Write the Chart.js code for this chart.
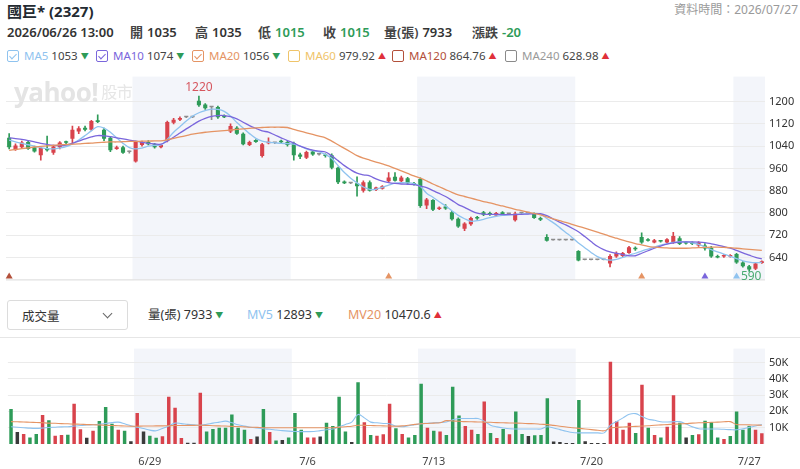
<!DOCTYPE html>
<html>
<head>
<meta charset="utf-8">
<script src="https://cdn.jsdelivr.net/npm/chart.js@4.4.1/dist/chart.umd.min.js"></script>
<style>
body{margin:0;width:800px;height:469px;overflow:hidden;background:#fff;position:relative;
  font-family:"Noto Sans","Noto Sans CJK TC",sans-serif;color:#333}
.abs{position:absolute;white-space:nowrap}
.title{left:7px;top:0;font-size:15px;font-weight:700;color:#232a31}
.stamp{right:2px;top:0;font-size:12px;color:#9a9a9a}
.row2{top:23px;font-size:13px;font-weight:600;color:#333;line-height:18px}
.row2 .k{font-weight:600;color:#444;margin-right:4px}
.leg{top:48px;font-size:11.5px;line-height:16px;color:#444}
.cb{display:inline-block;width:10px;height:10px;border:1.3px solid currentColor;border-radius:2px;
  vertical-align:-2px;margin-right:5px;position:relative}
.cb.on::after{content:'';position:absolute;left:3px;top:0.5px;width:3px;height:6px;border:solid currentColor;
  border-width:0 1.4px 1.4px 0;transform:rotate(45deg)}
.dn{color:#2e9b58;font-size:8px;vertical-align:1px;margin-left:3px}
.up{color:#e0303a;font-size:8px;vertical-align:1px;margin-left:3px}
.g{color:#2e9b58}
.wm{left:14px;top:74px;font:700 26px "Open Sans",sans-serif;color:#e4e4e4;letter-spacing:-0.5px}
.wm small{font:400 16px "Noto Sans CJK TC",sans-serif;color:#e6e6e6;margin-left:3px;vertical-align:4px}
.drop{left:7px;top:300px;width:119px;height:28px;border:1px solid #dcdcdc;border-radius:3px}
.drop span{position:absolute;left:14px;top:5px;font-size:12.5px;color:#333}
.drop i{position:absolute;right:16px;top:9px;width:6px;height:6px;border:solid #666;border-width:0 1.2px 1.2px 0;transform:rotate(45deg)}
.vleg{top:306px;font-size:12.5px;line-height:18px;color:#333}
.sep{left:0;top:337px;width:800px;height:1px;background:#e6e6e6}
</style>
</head>
<body>
<div class="abs title">國巨* (2327)</div>
<div class="abs stamp">資料時間：2026/07/27</div>

<div class="abs row2" style="left:7px">2026/06/26 13:00</div>
<div class="abs row2" style="left:130px"><span class="k">開</span>1035</div>
<div class="abs row2" style="left:195px"><span class="k">高</span>1035</div>
<div class="abs row2" style="left:258px"><span class="k">低</span><span class="g">1015</span></div>
<div class="abs row2" style="left:323px"><span class="k">收</span><span class="g">1015</span></div>
<div class="abs row2" style="left:384px"><span class="k">量(張)</span>7933</div>
<div class="abs row2" style="left:472px"><span class="k">漲跌</span><span class="g">-20</span></div>

<div class="abs leg" style="left:7px"><span class="cb on" style="color:#8fc3ef"></span><span style="color:#8fc3ef">MA5</span> 1053<span class="dn">▼</span></div>
<div class="abs leg" style="left:96px"><span class="cb on" style="color:#7a66dc"></span><span style="color:#7a66dc">MA10</span> 1074<span class="dn">▼</span></div>
<div class="abs leg" style="left:192px"><span class="cb on" style="color:#e59464"></span><span style="color:#e59464">MA20</span> 1056<span class="dn">▼</span></div>
<div class="abs leg" style="left:288px"><span class="cb" style="color:#efc46a"></span><span style="color:#efc46a">MA60</span> 979.92<span class="up">▲</span></div>
<div class="abs leg" style="left:392px"><span class="cb" style="color:#b3503a"></span><span style="color:#b3503a">MA120</span> 864.76<span class="up">▲</span></div>
<div class="abs leg" style="left:505px"><span class="cb" style="color:#8a8a8a"></span><span style="color:#9a9a9a">MA240</span> 628.98<span class="up">▲</span></div>

<div class="abs" style="left:0;top:66px;width:800px;height:224px"><canvas id="priceChart"></canvas></div>
<div class="abs wm">yahoo!<small>股市</small></div>

<div class="abs drop"><span>成交量</span><i></i></div>
<div class="abs vleg" style="left:148px">量(張) 7933<span class="dn">▼</span></div>
<div class="abs vleg" style="left:247px"><span style="color:#8fc3ef">MV5</span> 12893<span class="dn">▼</span></div>
<div class="abs vleg" style="left:348px"><span style="color:#e59464">MV20</span> 10470.6<span class="up">▲</span></div>
<div class="abs sep"></div>

<div class="abs" style="left:0;top:338px;width:800px;height:131px"><canvas id="volChart"></canvas></div>

<script>
// trading days, grouped by week, and hourly bars per day
const weeks = [
    ['6/23', '6/24', '6/25', '6/26'],
    ['6/29', '6/30', '7/1', '7/2', '7/3'],
    ['7/6', '7/7', '7/8', '7/9'],
    ['7/13', '7/14', '7/15', '7/16', '7/17'],
    ['7/20', '7/21', '7/22', '7/23', '7/24'],
    ['7/27']
];
const hours = ['09:00', '10:00', '11:00', '12:00', '13:00'];

const opens = [1070,1030,1036,1055,1036,1007,1030,1016,1036,1054, 1067,1093,1106,1099,1133,1099,1070,1030,1036,1019,
    985,1044,1055,1047,1036,1059,1124,1135,1144,1144, 1203,1190,1180,1181,1150,1093,1106,1085,1044,1062,
    1005,1050,1051,1058,1055,1051,1010,998,1021,1010, 1010,1007,962,913,907,907,880,910,882,887,
    914,930,914,925,907,922,827,846,814,823, 802,779,743,759,785,802,800,791,802,796,
    774,799,799,796,782,713,702,702,702,702, 663,631,631,631,631,618,643,645,656,675,
    713,705,694,698,694,694,709,694,694,683, 683,675,645,643,643,652,622,608,599,620];
const highs = [1085,1048,1058,1060,1040,1036,1076,1044,1056,1058, 1112,1110,1112,1133,1153,1105,1075,1040,1040,1022,
    1058,1058,1060,1050,1046,1130,1140,1145,1146,1146, 1220,1193,1182,1184,1153,1120,1110,1088,1058,1064,
    1050,1070,1053,1062,1058,1055,1015,1022,1025,1012, 1012,1012,965,915,909,930,915,915,893,898,
    945,945,932,928,910,926,852,848,822,830, 806,782,765,785,788,806,803,802,805,798,
    803,800,800,800,785,722,702,702,702,702, 665,631,631,631,631,650,660,658,680,678,
    728,708,705,700,708,730,715,696,696,697, 690,680,648,650,650,655,625,612,620,628];
const lows = [1030,1025,1032,1028,1018,990,1022,1010,1030,1048, 1047,1085,1095,1096,1124,1060,1020,1028,1014,1015,
    982,1040,1044,1033,1034,1055,1120,1132,1142,1142, 1183,1172,1135,1140,1142,1088,1082,1044,1042,1053,
    1000,1048,1049,1052,1040,990,995,995,1007,1008, 1000,958,905,905,905,860,875,878,880,885,
    910,914,910,905,900,820,815,808,812,813, 774,748,736,755,777,790,791,789,791,794,
    770,797,797,780,772,698,702,702,702,702, 627,631,631,631,631,606,640,643,654,665,
    690,698,692,695,692,690,686,688,686,680, 666,640,638,640,641,618,605,590,596,618];
const closes = [1036,1042,1053,1030,1021,1033,1025,1039,1053,1052, 1099,1104,1099,1130,1127,1067,1025,1036,1016,1019,
    1055,1055,1047,1036,1044,1127,1135,1141,1144,1144, 1187,1176,1180,1144,1144,1112,1085,1047,1055,1055,
    1047,1056,1051,1054,1044,1007,1002,1019,1010,1010, 1005,962,910,907,907,896,910,880,891,896,
    927,916,927,907,902,825,848,811,819,816, 777,751,762,782,780,793,793,800,795,796,
    798,799,799,782,775,700,702,702,702,702, 629,631,631,631,631,645,656,656,677,669,
    694,700,702,697,705,717,688,690,688,694, 672,643,640,648,648,622,608,597,618,626];

const ma5 = [1062,1055,1050,1045,1040,1035,1031,1030,1033,1038, 1048,1062,1078,1095,1110,1105,1090,1070,1050,1035,
    1030,1033,1040,1043,1044,1065,1090,1110,1130,1148, 1160,1168,1173,1172,1165,1148,1125,1105,1085,1068,
    1058,1054,1052,1050,1049,1047,1040,1030,1024,1019, 1010,996,970,945,925,908,893,885,885,892,
    900,907,909,908,905,895,871,856,840,825, 808,791,779,770,772,777,783,788,791,793,
    795,796,797,798,796,780,765,748,730,712, 692,675,658,643,634,630,633,640,648,655,
    663,670,677,684,689,694,697,696,692,687, 678,668,660,652,644,636,628,623,621,622];
const ma10 = [1070,1067,1064,1060,1055,1050,1046,1043,1042,1044, 1050,1058,1066,1073,1078,1077,1074,1070,1066,1062,
    1058,1054,1050,1048,1047,1058,1072,1087,1102,1116, 1130,1140,1147,1150,1150,1146,1138,1126,1114,1104,
    1095,1090,1080,1070,1060,1051,1040,1032,1026,1022, 1019,1005,988,970,955,943,937,933,922,914,
    909,906,904,903,902,896,891,880,870,859, 845,830,820,808,799,796,795,795,794,794,
    794,795,796,797,797,790,778,767,757,745, 732,715,697,680,668,660,655,650,646,646,
    655,664,673,681,688,692,695,696,696,695, 693,689,684,679,673,665,656,648,640,635];
const ma20 = [1025,1028,1031,1034,1037,1039,1041,1043,1045,1046, 1047,1048,1050,1051,1053,1054,1055,1055,1056,1057,
    1057,1058,1058,1059,1059,1063,1068,1073,1078,1083, 1087,1090,1092,1094,1096,1098,1100,1102,1104,1106,
    1107,1108,1108,1108,1107,1100,1094,1088,1082,1076, 1070,1058,1045,1032,1019,1006,997,990,983,976,
    969,960,951,942,933,925,915,904,894,884, 874,865,859,853,847,841,836,830,825,819,
    813,808,803,798,793,786,779,772,766,759, 752,745,738,731,724,716,709,702,696,690,
    685,680,677,675,674,673,673,673,674,675, 676,677,677,676,675,673,671,669,667,665];

// volume in 張, and the close's move against the previous close (1 up, -1 down, 0 flat)
const volumes = [21400,7400,6200,4000,6200,17700,14500,5100,5500,5700, 24600,9000,3800,8100,14100,22600,12400,8700,8100,1700,
    19000,7700,5100,3800,4700,29000,22200,3600,800,800, 31400,7700,9200,10000,10000,18100,10000,8700,3100,4600,
    21400,7400,2100,2500,4000,19000,8700,4000,4000,4600, 13000,11100,29000,7700,1200,37800,13400,5500,5100,5900,
    24600,9600,6200,4000,5500,36900,10000,8100,7700,5500, 35000,17500,11100,8700,6200,26100,6800,3600,9200,5900,
    19900,6200,4900,5300,5500,28000,1500,1200,600,600, 26900,1700,600,600,600,50400,14000,8700,13000,6800,
    36300,10000,5500,4000,10600,29900,13000,4000,5500,5900, 14300,13400,4000,3100,4900,19900,8700,11100,8700,6600];
const volMove = [-1,0,1,-1,-1,1,-1,1,1,-1, 1,1,0,1,-1,-1,-1,1,-1,0,
    1,0,-1,-1,1,1,1,1,0,0, 1,-1,-1,-1,-1,-1,-1,-1,1,0,
    -1,1,-1,0,-1,-1,-1,1,1,0, -1,-1,-1,-1,0,-1,1,-1,1,1,
    1,-1,1,-1,-1,-1,1,-1,1,-1, -1,-1,1,1,-1,1,-1,1,-1,1,
    -1,-1,0,-1,-1,-1,0,0,0,0, -1,0,0,0,0,1,1,1,1,-1,
    1,-1,1,-1,1,1,-1,0,-1,1, -1,-1,-1,1,-1,-1,-1,-1,1,1];
const mv5 = [10600,10300,10000,9700,9600,9800,10100,10300,10500,10600, 11000,11300,11600,11800,12100,12600,13100,13400,12400,11200,
    10300,9500,8500,8100,9500,11000,12800,12500,12000,11700, 11500,12100,12800,13400,14000,13000,11800,11000,10300,9800,
    9300,9000,8600,8200,7900,7700,7600,7600,7700,8200, 8700,9200,10500,12000,13400,18100,16000,13400,13000,12600,
    12400,11000,10600,11200,11800,12400,12700,13000,13200,13500, 14800,15600,15600,15600,15600,14000,11500,10500,9800,9300,
    9200,9200,9200,9200,9200,10600,9800,8800,7800,7000, 6800,6800,6800,6800,6800,11500,13800,16000,18200,18600,
    16800,15200,14500,13600,13500,13600,13700,12200,10500,9300, 9200,9200,9200,9000,8800,8700,9300,10200,11000,11900];
const mv20 = [13700,13600,13500,13300,13200,13000,12800,12700,12500,12400, 12200,12100,11900,11800,11600,11500,11300,11200,11000,10900,
    10900,11000,11000,11100,11100,11200,11300,11300,11400,11400, 11500,11400,11200,11100,11000,10800,10700,10500,10300,10200,
    10000,10000,10000,10000,10000,10000,10000,10000,10000,10000, 10000,10000,10300,10600,10900,11500,11400,11300,11200,11100,
    11000,10900,11100,11500,12000,12400,12600,12800,13000,14300, 14100,13900,13700,13600,13500,13400,13300,13100,13000,12900,
    12800,12700,12500,12400,12100,11900,11400,10900,10400,10000, 9600,9200,8800,8400,8100,9800,10200,10400,10600,10800,
    11000,11200,11500,11700,11900,12100,12300,12500,12800,13000, 13100,13300,13400,13600,13700,11900,11800,11700,11600,11500];

const priceTicks = [640, 720, 800, 880, 960, 1040, 1120, 1200];
const volTicks = [10000, 20000, 30000, 40000, 50000];

// bars where a moving-average signal arrow is shown under the chart
const signalBars = [0, 60, 100, 110, 115];
const signalLines = ['MA120', 'MA20', 'MA20', 'MA10', 'MA5'];

const RED = '#d8434c', GREEN = '#2e9b58', GRAY = '#8c8c8c', DARK = '#3a3a3a';
const lineColors = { MA5: '#8fc3ef', MA10: '#7a66dc', MA20: '#e59464', MA120: '#b3503a' };

Chart.defaults.font.family = '"Noto Sans", "Noto Sans CJK TC", sans-serif';

const categories = weeks.flat().flatMap(d => hours.map(h => d + ' ' + h));

// index range of each week, used for the alternating shading and the date ticks
const weekRanges = [];
let n = 0;
weeks.forEach(w => {
    weekRanges.push([n, n + w.length * hours.length - 1]);
    n += w.length * hours.length;
});
const tickText = {};
weekRanges.forEach(([a], w) => { if (w > 0) tickText[a + 2] = weeks[w][0]; });

function shadeWeeks(chart) {
    const { ctx, chartArea, scales: { x } } = chart;
    const step = x.getPixelForValue(1) - x.getPixelForValue(0);
    ctx.save();
    ctx.fillStyle = '#f3f5fa';
    weekRanges.forEach(([a, b], w) => {
        if (w % 2 === 0) return;
        const x0 = x.getPixelForValue(a) - step / 2;
        const x1 = Math.min(x.getPixelForValue(b) + step / 2, chartArea.right);
        ctx.fillRect(x0, chartArea.top, x1 - x0, chartArea.bottom - chartArea.top);
    });
    ctx.restore();
}

const priceDecor = {
    id: 'priceDecor',
    beforeDraw: shadeWeeks,
    afterDatasetsDraw(chart) {
        const { ctx, chartArea: a, scales: { x, y } } = chart;
        ctx.save();
        ctx.strokeStyle = '#d9d9d9';
        ctx.lineWidth = 1;
        ctx.beginPath();
        ctx.moveTo(a.left, a.bottom + 0.5);
        ctx.lineTo(a.right, a.bottom + 0.5);
        ctx.stroke();

        const hi = highs.indexOf(Math.max(...highs));
        ctx.font = '12px "Noto Sans"';
        ctx.textAlign = 'center';
        ctx.textBaseline = 'bottom';
        ctx.fillStyle = '#d6565e';
        ctx.fillText(String(highs[hi]), x.getPixelForValue(hi), y.getPixelForValue(highs[hi]) - 2);

        const lo = lows.indexOf(Math.min(...lows));
        ctx.textBaseline = 'middle';
        ctx.fillStyle = '#4aab72';
        ctx.fillText(String(lows[lo]), x.getPixelForValue(lo) + 2, a.bottom - 3);

        signalBars.forEach((b, i) => {
            const cx = x.getPixelForValue(b);
            ctx.fillStyle = lineColors[signalLines[i]];
            ctx.beginPath();
            ctx.moveTo(cx - 3.5, a.bottom - 1);
            ctx.lineTo(cx + 3.5, a.bottom - 1);
            ctx.lineTo(cx, a.bottom - 7);
            ctx.closePath();
            ctx.fill();
        });
        ctx.restore();
    }
};

const candleColors = closes.map((c, i) => c > opens[i] ? RED : c < opens[i] ? GREEN : GRAY);
const volColors = volMove.map(m => m > 0 ? RED : m < 0 ? GREEN : DARK);

const maLine = (data, color) => ({
    type: 'line', data, borderColor: color, borderWidth: 1.3,
    pointRadius: 0, tension: 0.35, order: 0
});

new Chart(document.getElementById('priceChart').getContext('2d'), {
    type: 'bar',
    data: {
        labels: categories,
        datasets: [
            maLine(ma20, lineColors.MA20),
            maLine(ma10, lineColors.MA10),
            maLine(ma5, lineColors.MA5),
            {
                data: opens.map((o, i) => [o, closes[i]]),
                backgroundColor: candleColors,
                barPercentage: 0.65, categoryPercentage: 1,
                grouped: false, minBarLength: 1.5, order: 1
            },
            {
                data: lows.map((l, i) => [l, highs[i]]),
                backgroundColor: candleColors,
                barThickness: 1, grouped: false, order: 2
            }
        ]
    },
    options: {
        animation: false,
        responsive: true,
        maintainAspectRatio: false,
        layout: { padding: { left: 6, top: 4, bottom: 6, right: 0 } },
        plugins: { legend: { display: false }, tooltip: { enabled: false } },
        scales: {
            x: { display: false },
            y: {
                position: 'right', min: 561, max: 1290,
                afterBuildTicks: s => { s.ticks = priceTicks.map(v => ({ value: v })); },
                afterFit: s => { s.width = 35; },
                grid: { color: '#ebebeb', drawTicks: false },
                border: { display: false },
                ticks: { padding: 4, color: '#333', font: { size: 11 }, callback: v => String(v) }
            }
        }
    },
    plugins: [priceDecor]
});

new Chart(document.getElementById('volChart').getContext('2d'), {
    type: 'bar',
    data: {
        labels: categories,
        datasets: [
            { type: 'line', data: mv20, borderColor: lineColors.MA20, borderWidth: 1.1, pointRadius: 0, tension: 0.35, order: 0 },
            { type: 'line', data: mv5, borderColor: lineColors.MA5, borderWidth: 1.1, pointRadius: 0, tension: 0.35, order: 0 },
            {
                data: volumes, backgroundColor: volColors,
                barPercentage: 0.55, categoryPercentage: 1, minBarLength: 1, order: 1
            }
        ]
    },
    options: {
        animation: false,
        responsive: true,
        maintainAspectRatio: false,
        layout: { padding: { left: 6, top: 2, bottom: 0, right: 0 } },
        plugins: { legend: { display: false }, tooltip: { enabled: false } },
        scales: {
            x: {
                grid: { display: false, drawTicks: false },
                border: { display: false },
                afterFit: s => { s.height = 25; },
                ticks: {
                    autoSkip: false, maxRotation: 0, padding: 11,
                    color: '#444', font: { size: 11 },
                    callback: (v, i) => tickText[i] || ''
                }
            },
            y: {
                position: 'right', min: 0, max: 58450,
                afterBuildTicks: s => { s.ticks = volTicks.map(v => ({ value: v })); },
                afterFit: s => { s.width = 35; },
                grid: { color: '#ebebeb', drawTicks: false },
                border: { display: false },
                ticks: { padding: 4, color: '#333', font: { size: 11 }, callback: v => (v / 1000) + 'K' }
            }
        }
    },
    plugins: [{ id: 'volShade', beforeDraw: shadeWeeks }]
});
</script>
</body>
</html>
